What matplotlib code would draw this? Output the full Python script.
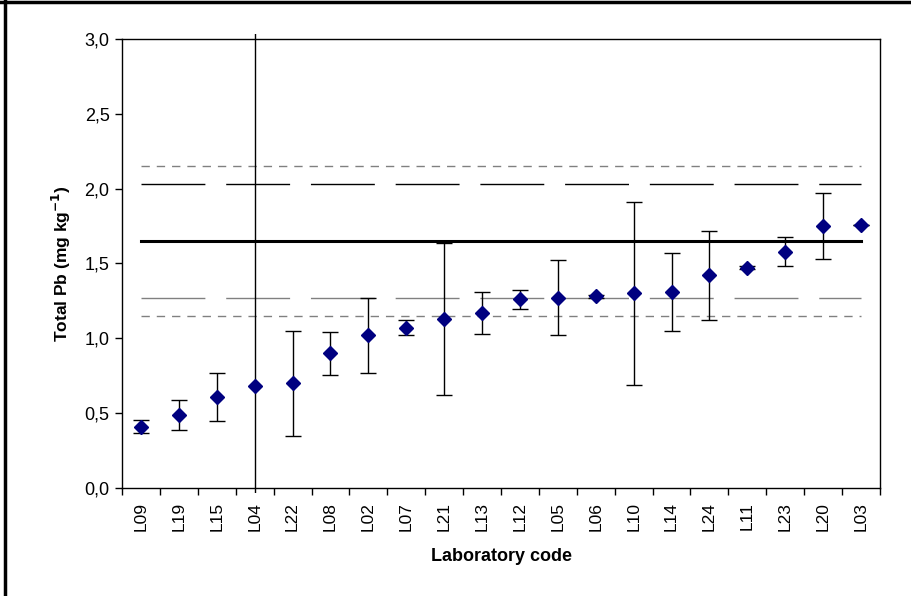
import matplotlib
matplotlib.use('Agg')
import matplotlib.pyplot as plt
from matplotlib.lines import Line2D
from matplotlib.patches import Rectangle
from matplotlib.ticker import FuncFormatter, FixedLocator, MultipleLocator

plt.rcParams['font.family'] = ['Liberation Sans', 'DejaVu Sans']

# lab results for total Pb, sorted by reported value
labs = ['L09', 'L19', 'L15', 'L04', 'L22', 'L08', 'L02', 'L07', 'L21', 'L13',
        'L12', 'L05', 'L06', 'L10', 'L14', 'L24', 'L11', 'L23', 'L20', 'L03']
pb_mean = [0.41, 0.49, 0.61, 0.68, 0.70, 0.90, 1.02, 1.07, 1.13, 1.17,
           1.26, 1.27, 1.28, 1.30, 1.31, 1.42, 1.47, 1.58, 1.75, 1.76]
pb_unc = [0.045, 0.10, 0.16, 2.40, 0.35, 0.145, 0.25, 0.05, 0.51, 0.14,
          0.063, 0.25, 0.01, 0.61, 0.26, 0.30, 0.01, 0.10, 0.22, 0.0]

assigned = 1.65
limit_inner = 0.383   # long dashes
limit_outer = 0.50    # short dashes

fig = plt.figure(figsize=(9.12, 5.96), dpi=100)
ax = fig.add_axes([0.1338, 0.1812, 0.8311, 0.7534])

x = list(range(len(labs)))
x_lo, x_hi = x[0], x[-1]

# reference lines
ax.plot([x_lo, x_hi], [assigned, assigned], color='black', lw=2.2, zorder=2)
ax.plot([x_lo, x_hi], [assigned + limit_inner] * 2, color='black', lw=1,
        dashes=(46, 15), zorder=2)
ax.plot([x_lo, x_hi], [assigned - limit_inner] * 2, color='#808080', lw=1,
        dashes=(46, 15), zorder=2)
ax.plot([x_lo, x_hi], [assigned + limit_outer] * 2, color='#808080', lw=1,
        dashes=(6, 5), zorder=2)
ax.plot([x_lo, x_hi], [assigned - limit_outer] * 2, color='#808080', lw=1,
        dashes=(6, 5), zorder=2)

eb = ax.errorbar(x, pb_mean, yerr=pb_unc, fmt='none', ecolor='black',
                 elinewidth=1, capsize=6, capthick=1, zorder=3)
# let the error bars run a few pixels past the plot area, as the big L04 one does
clip = Rectangle((0, -0.012), 1, 1.024, transform=ax.transAxes, facecolor='none')
for coll in eb.lines[2]:
    coll.set_clip_path(clip)
for cap in eb.lines[1]:
    cap.set_clip_path(clip)

ax.plot(x, pb_mean, linestyle='none', marker='D', markersize=7,
        color='#000080', markeredgecolor='#000080', zorder=4)

ax.set_xlim(-0.5, len(labs) - 0.5)
ax.set_ylim(0, 3.0)
ax.yaxis.set_major_locator(MultipleLocator(0.5))
ax.yaxis.set_major_formatter(FuncFormatter(lambda v, p: f'{v:.1f}'.replace('.', ',')))

ax.set_xticks(x)
ax.set_xticklabels(labs, rotation=90, fontsize=12.5)
ax.tick_params(axis='x', which='major', length=0, pad=10)
ax.xaxis.set_minor_locator(FixedLocator([i - 0.5 for i in range(len(labs) + 1)]))
ax.tick_params(axis='x', which='minor', length=5, direction='out', width=1)
ax.tick_params(axis='y', length=5, direction='out', width=1, labelsize=13, pad=4)

for side in ['left', 'bottom', 'right', 'top']:
    ax.spines[side].set_linewidth(1)
    ax.spines[side].set_color('black')

ax.set_ylabel('Total Pb (mg kg$^{\\mathbf{-1}}$)', fontsize=12.5, fontweight='bold', labelpad=8)
ax.set_xlabel('Laboratory code', fontsize=13, fontweight='bold', labelpad=12)

# frame around the chart
fig.add_artist(Line2D([0, 1], [0.997, 0.997], transform=fig.transFigure,
                      color='black', lw=2.5))
fig.add_artist(Line2D([0.0055, 0.0055], [0, 1], transform=fig.transFigure,
                      color='black', lw=2.5))

fig.savefig('out.png', dpi=100)
